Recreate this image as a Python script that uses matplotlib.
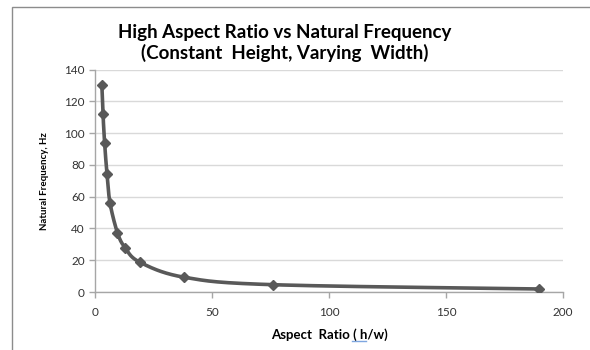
import numpy as np
import matplotlib
matplotlib.use("Agg")
import matplotlib.pyplot as plt
from matplotlib.patches import Rectangle
from matplotlib.lines import Line2D

# values
aspect_ratio = [2.8, 3.3, 4.0, 5.0, 6.3, 9.5, 12.7, 19.0, 38.0, 76.0, 190.0]
nat_freq = [130.5, 112.0, 93.5, 74.5, 56.0, 37.2, 28.0, 18.8, 9.3, 4.6, 1.9]
x_ticks = [0, 50, 100, 150, 200]
y_ticks = [0, 20, 40, 60, 80, 100, 120, 140]

LINE = "#595959"
GRID = "#d9d9d9"
AXIS = "#a6a6a6"
TEXT = "#333333"


def smooth_curve(x, y, sx, sy, n=40):
    """Excel style smoothed line (bezier, tension 1/6) computed in scaled space"""
    px = np.asarray(x) * sx
    py = np.asarray(y) * sy
    pts = np.column_stack([px, py])
    out = []
    for i in range(len(pts) - 1):
        p0 = pts[i - 1] if i > 0 else pts[i]
        p1 = pts[i]
        p2 = pts[i + 1]
        p3 = pts[i + 2] if i + 2 < len(pts) else pts[i + 1]
        c1 = p1 + (p2 - p0) / 6
        c2 = p2 - (p3 - p1) / 6
        t = np.linspace(0, 1, n)[:, None]
        seg = ((1 - t) ** 3) * p1 + 3 * ((1 - t) ** 2) * t * c1 + 3 * (1 - t) * t ** 2 * c2 + t ** 3 * p2
        out.append(seg)
    curve = np.vstack(out)
    return curve[:, 0] / sx, curve[:, 1] / sy


plt.rcParams['font.family'] = ['Lato', 'DejaVu Sans']

fig = plt.figure(figsize=(5.9, 3.5), dpi=100)
ax = fig.add_axes([0.1615, 0.1657, 0.7925, 0.6357])

# outer chart frame
fig.patches.append(Rectangle((12 / 590, -0.1), 1.2, 1 - 7 / 350 + 0.1,
                             transform=fig.transFigure, fill=False,
                             edgecolor="#8c8c8c", linewidth=1.0))

ax.set_xlim(0, 200)
ax.set_ylim(0, 140)

# pixel scale of each axis unit for the smoothing
sx = 468 / 200
sy = 222.5 / 140
cx, cy = smooth_curve(aspect_ratio, nat_freq, sx, sy)
ax.plot(cx, cy, color=LINE, linewidth=2.6, solid_capstyle='round', zorder=3)
ax.plot(aspect_ratio, nat_freq, linestyle='none', marker='D', markersize=5.5,
        color=LINE, zorder=4)

ax.set_xticks(x_ticks)
ax.set_yticks(y_ticks)
ax.yaxis.grid(True, color=GRID, linewidth=1.0)
ax.set_axisbelow(True)
for s in ['top', 'right']:
    ax.spines[s].set_visible(False)
for s in ['left', 'bottom']:
    ax.spines[s].set_color(AXIS)
    ax.spines[s].set_linewidth(1.0)
ax.tick_params(axis='both', colors=AXIS, length=4, width=1.0, labelsize=8.5,
               labelcolor=TEXT)
ax.tick_params(axis='x', pad=7)

ax.set_xlabel('Aspect  Ratio ( h/w)', fontsize=9.5, fontweight='bold', color='black',
              labelpad=7)
ax.set_ylabel('Natural Frequency, Hz', fontsize=7, fontweight='bold', color='black',
              labelpad=11)

# spell-check underline under "h" in the axis title
fig.lines.append(Line2D([352 / 590, 366 / 590], [1 - 341 / 350, 1 - 341 / 350],
                        transform=fig.transFigure, color="#7ea6e0", linewidth=1.0))

fig.text(0.483, 0.906, 'High Aspect Ratio vs Natural Frequency', ha='center',
         va='center', fontsize=13.5, fontweight='bold', color='black')
fig.text(0.483, 0.849, '(Constant  Height, Varying  Width)', ha='center',
         va='center', fontsize=13.5, fontweight='bold', color='black')

fig.savefig('out.png', dpi=100)
